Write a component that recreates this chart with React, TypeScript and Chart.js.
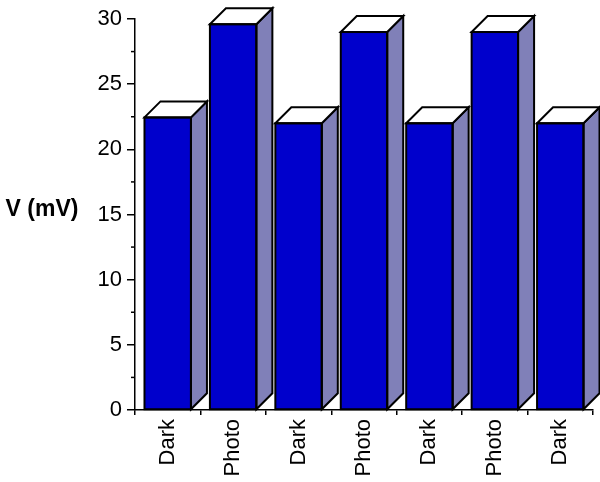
import React, { useEffect, useRef } from "react";
import { Chart, registerables } from "chart.js";

Chart.register(...registerables);

const categories = ["Dark", "Photo", "Dark", "Photo", "Dark", "Photo", "Dark"];
const voltages = [22.45, 29.6, 22.0, 29.0, 22.0, 29.0, 22.0];
const yMin = 0;
const yMax = 30;
const yStep = 5;
const minorTicks = [2.5, 7.5, 12.5, 17.5, 22.5, 27.5];
const yTitle = "V (mV)";

const FONT = "'Liberation Sans', Arial, Helvetica, sans-serif";
const FRONT = "#0000CC";
const SIDE = "#8080B8";
const DEPTH = 16;

const bar3dPlugin = {
  id: "bar3d",
  afterDatasetsDraw(chart: any) {
    const ctx = chart.ctx;
    const meta = chart.getDatasetMeta(0);
    ctx.save();
    ctx.lineWidth = 2;
    ctx.strokeStyle = "#000";
    ctx.lineJoin = "miter";
    meta.data.forEach((el: any) => {
      const p = el.getProps(["x", "y", "base", "width"], true);
      const l = p.x - p.width / 2;
      const r = p.x + p.width / 2;
      const t = p.y;
      const b = p.base;
      const d = DEPTH;
      // side face
      ctx.beginPath();
      ctx.moveTo(r, t);
      ctx.lineTo(r + d, t - d);
      ctx.lineTo(r + d, b - d);
      ctx.lineTo(r, b);
      ctx.closePath();
      ctx.fillStyle = SIDE;
      ctx.fill();
      ctx.stroke();
      // top face
      ctx.beginPath();
      ctx.moveTo(l, t);
      ctx.lineTo(l + d, t - d);
      ctx.lineTo(r + d, t - d);
      ctx.lineTo(r, t);
      ctx.closePath();
      ctx.fillStyle = "#fff";
      ctx.fill();
      ctx.stroke();
      // front outline
      ctx.strokeRect(l, t, r - l, b - t);
    });
    ctx.restore();
  },
  afterDraw(chart: any) {
    const ctx = chart.ctx;
    const ys = chart.scales.y;
    const left = chart.chartArea.left;
    ctx.save();
    ctx.strokeStyle = "#000";
    ctx.lineWidth = 1.5;
    minorTicks.forEach((v) => {
      const y = ys.getPixelForValue(v);
      ctx.beginPath();
      ctx.moveTo(left - 4, y);
      ctx.lineTo(left, y);
      ctx.stroke();
    });
    // y title
    ctx.fillStyle = "#000";
    ctx.font = `bold 23px ${FONT}`;
    ctx.textAlign = "center";
    ctx.textBaseline = "middle";
    ctx.fillText(yTitle, 42, (chart.chartArea.top + chart.chartArea.bottom) / 2 - 5);
    ctx.restore();
  },
};

export default function App() {
  const ref = useRef<HTMLCanvasElement | null>(null);
  useEffect(() => {
    if (!ref.current) return;
    const chart = new Chart(ref.current, {
      type: "bar",
      data: {
        labels: categories,
        datasets: [
          {
            data: voltages,
            backgroundColor: FRONT,
            borderWidth: 0,
            categoryPercentage: 1,
            barPercentage: 0.71,
            clip: false as any,
          },
        ],
      },
      options: {
        responsive: false,
        animation: false,
        layout: { padding: { top: 19, right: 7, left: 0, bottom: 0 } },
        plugins: {
          legend: { display: false },
          tooltip: { enabled: false },
        },
        scales: {
          x: {
            afterFit: (s: any) => {
              s.height = 72;
            },
            grid: {
              offset: true,
              drawOnChartArea: false,
              drawTicks: true,
              tickLength: 5,
              color: "#000",
              lineWidth: 1.5,
            },
            border: { color: "#000", width: 1.5 },
            ticks: {
              autoSkip: false,
              maxRotation: 90,
              minRotation: 90,
              padding: 4,
              color: "#000",
              font: { family: FONT, size: 22 },
            },
          },
          y: {
            min: yMin,
            max: yMax,
            afterFit: (s: any) => {
              s.width = 135;
            },
            grid: {
              drawOnChartArea: false,
              drawTicks: true,
              tickLength: 8,
              color: "#000",
              lineWidth: 1.5,
            },
            border: { color: "#000", width: 1.5 },
            ticks: {
              stepSize: yStep,
              padding: 5,
              color: "#000",
              font: { family: FONT, size: 22 },
            },
          },
        },
      },
      plugins: [bar3dPlugin],
    });
    return () => chart.destroy();
  }, []);
  return (
    <div style={{ position: "absolute", left: 0, top: 0, width: 600, height: 482, background: "#fff" }}>
      <canvas ref={ref} width={600} height={482} />
    </div>
  );
}
